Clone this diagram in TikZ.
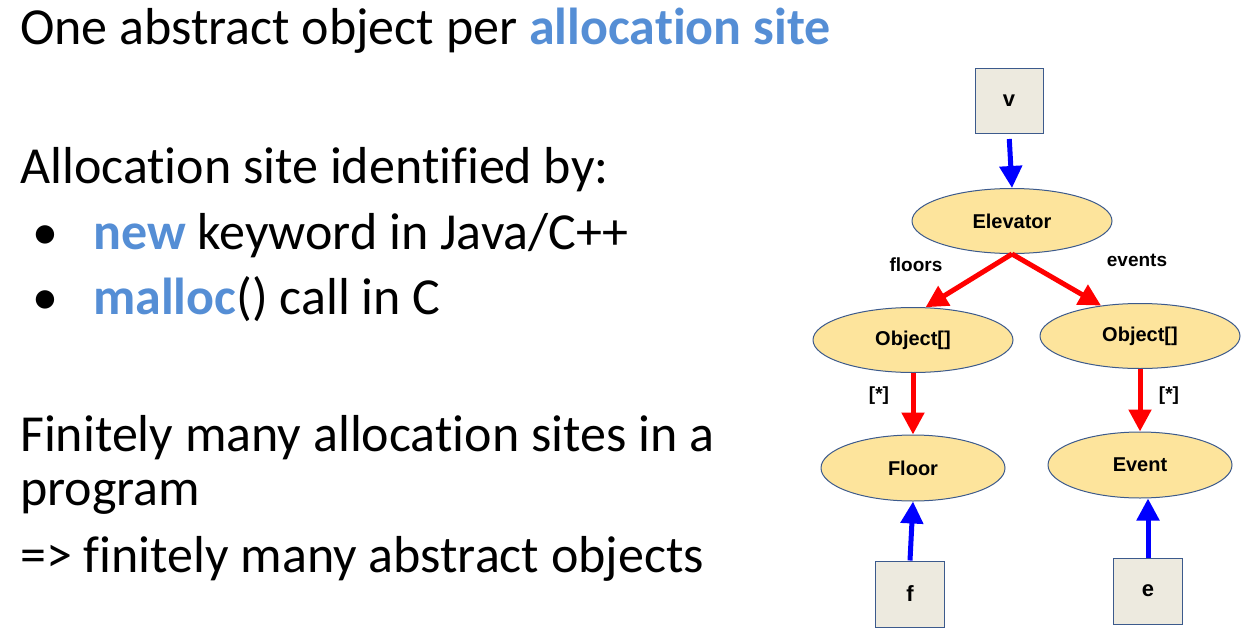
\documentclass[tikz,border=0pt]{standalone}
\usepackage{fontspec}
\setmainfont[Ligatures={NoCommon}]{Carlito}
\newfontfamily\diagfont{Liberation Sans}
\usetikzlibrary{arrows.meta,shapes.geometric}
\definecolor{hlblue}{RGB}{85,142,213}
\definecolor{ellfill}{RGB}{253,228,156}
\definecolor{boxfill}{RGB}{237,234,223}
\definecolor{edgeblue}{RGB}{60,90,140}
\begin{document}
\begin{tikzpicture}[x=1pt,y=-1pt,
  txt/.style={anchor=base west,inner sep=0pt,font=\fontsize{52}{58}\selectfont},
  obj/.style={ellipse,draw=edgeblue,line width=1pt,fill=ellfill,minimum width=200pt,minimum height=65pt,inner sep=0pt,font=\diagfont\bfseries\fontsize{20}{22}\selectfont},
  var/.style={rectangle,draw=edgeblue,line width=1pt,fill=boxfill,minimum width=68pt,minimum height=65pt,inner sep=0pt,font=\diagfont\bfseries\fontsize{22}{24}\selectfont},
  lbl/.style={inner sep=0pt,font=\diagfont\bfseries\fontsize{19}{20}\selectfont},
  fieldarrow/.style={draw=red,line width=5pt,-{Triangle[width=22pt,length=22pt]}},
  ptarrow/.style={draw=blue,line width=5pt,-{Triangle[width=22pt,length=22pt]}}]
\useasboundingbox (0,0) rectangle (1256,640);
% left text
\node[txt] (t1) at (20,44) {One abstract object per \textcolor{hlblue}{\textbf{allocation site}}};
\node[txt] (t2) at (20,183) {Allocation site identified by:};
\node[txt] (b1) at (32,249) {\textbullet};
\node[txt] (t3) at (93,249) {\textcolor{hlblue}{\textbf{new}} keyword in Java/C++};
\node[txt] (b2) at (32,314) {\textbullet};
\node[txt] (t4) at (93,314) {\textcolor{hlblue}{\textbf{malloc}}() call in C};
\node[txt] (t5) at (20,451) {Finitely many allocation sites in a};
\node[txt] (t6) at (20,505) {program};
\node[txt] (t7) at (20,572) {=> finitely many abstract objects};
% diagram
\node[var] (v) at (1009,101) {v};
\node[obj] (elev) at (1012,221) {Elevator};
\node[obj] (objL) at (913,340) {Object[]};
\node[obj] (objR) at (1140,336) {Object[]};
\node[obj,minimum width=184pt,minimum height=66pt] (floor) at (913,468) {Floor};
\node[obj,minimum width=184pt,minimum height=66pt] (event) at (1140,465) {Event};
\node[var,minimum width=69pt,minimum height=66pt] (f) at (910,594) {f};
\node[var,minimum width=69pt,minimum height=66pt] (e) at (1148,591) {e};
\node[lbl] (lfloors) at (916,265) {floors};
\node[lbl] (levents) at (1137,260) {events};
\node[lbl] (lstarL) at (879,396) {[*]};
\node[lbl] (lstarR) at (1169,396) {[*]};
\draw[ptarrow,shorten <=5pt] (v.south) -- (elev.north);
\draw[fieldarrow] (elev.south) -- (objL.69);
\draw[fieldarrow] (elev.south) -- (objR.142);
\draw[fieldarrow] (objL.south) -- (floor.north);
\draw[fieldarrow] (objR.south) -- (event.north);
\draw[ptarrow] (f.north) -- (floor.south);
\draw[ptarrow] (e.north) -- (e.north |- event.south);
\end{tikzpicture}
\end{document}
